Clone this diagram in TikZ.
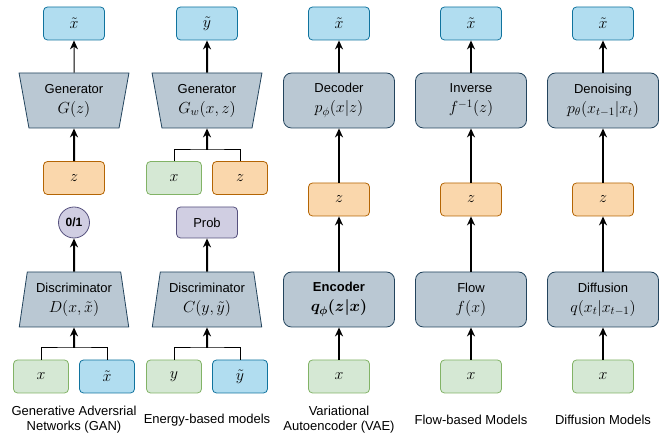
\RequirePackage{fix-cm}
\documentclass[tikz,border=0pt]{standalone}
\usepackage{amsmath,amssymb}
\usepackage{fontspec}
\setmainfont{Liberation Sans}
\usepackage{xcolor}
\usetikzlibrary{arrows.meta,shapes.geometric}
\definecolor{bluefill}{HTML}{B1DDF0}
\definecolor{blueline}{HTML}{10739E}
\definecolor{orangefill}{HTML}{FAD7AC}
\definecolor{orangeline}{HTML}{B46504}
\definecolor{greenfill}{HTML}{D5E8D4}
\definecolor{greenline}{HTML}{82B366}
\definecolor{grayfill}{HTML}{BAC8D3}
\definecolor{grayline}{HTML}{23445D}
\definecolor{purplefill}{HTML}{D0CEE2}
\definecolor{purpleline}{HTML}{56517E}
\newcommand{\mth}[1]{{\fontsize{16}{20}\selectfont$#1$}}
\tikzset{
	every node/.style={font=\fontsize{13}{20}\selectfont},
	smallbox/.style={rounded corners=4pt, minimum width=61pt, minimum height=33pt, inner sep=0pt, line width=0.8pt},
	outbox/.style={smallbox, draw=blueline, fill=bluefill},
	latent/.style={smallbox, draw=orangeline, fill=orangefill},
	inbox/.style={smallbox, draw=greenline, fill=greenfill},
	halfbox/.style={minimum width=55pt},
	netbox/.style={draw=grayline, fill=grayfill, rounded corners=8pt, minimum width=111pt, minimum height=55pt, align=center, inner sep=0pt, line width=0.8pt},
	trapnet/.style={trapezium, trapezium stretches, draw=grayline, fill=grayfill, minimum width=110pt, minimum height=55pt, align=center, inner sep=0pt, line width=0.8pt},
	gennet/.style={trapnet, trapezium left angle=101, trapezium right angle=101},
	discnet/.style={trapnet, trapezium left angle=79, trapezium right angle=79},
	flow/.style={-{Stealth[length=9pt,width=8pt]}, line width=2pt},
	thinflow/.style={-{Stealth[length=9pt,width=8pt]}, line width=1pt},
	branchline/.style={line width=1pt},
	caption/.style={align=center, font=\fontsize{13}{15}\selectfont}
}

\begin{document}
\begin{tikzpicture}[x=1pt,y=-1pt]
	\useasboundingbox (0,0) rectangle (665,435);

	% GAN
	\node[outbox] (ganout) at (74,23.5) {\mth{\tilde{x}}};
	\node[gennet] (gangen) at (74,100.5) {Generator\\\mth{G(z)}};
	\node[latent] (ganz) at (74,178) {\mth{z}};
	\node[circle, draw=purpleline, fill=purplefill, minimum size=31pt, inner sep=0pt, line width=0.8pt, font=\fontsize{12}{14}\selectfont\bfseries] (ganprob) at (74,222.5) {0/1};
	\node[discnet] (gandisc) at (74,299.5) {Discriminator\\\mth{D(x,\tilde{x})}};
	\node[inbox, halfbox] (ganx) at (41,376.5) {\mth{x}};
	\node[outbox, halfbox] (ganxt) at (107,376.5) {\mth{\tilde{x}}};
	\coordinate (ganjoin) at (74,348);
	\draw[thinflow] (gangen) -- (ganout);
	\draw[flow] (ganz) -- (gangen);
	\draw[flow] (gandisc) -- (ganprob);
	\draw[branchline] (ganx.north) |- (ganjoin) -| (ganxt.north);
	\draw[flow] (ganjoin) -- (gandisc.south);
	\node[caption] (gancap) at (74,420) {Generative Adversrial\\Networks (GAN)};

	% Energy-based models
	\node[outbox] (ebmout) at (207,23.5) {\mth{\tilde{y}}};
	\node[gennet] (ebmgen) at (207,100.5) {Generator\\\mth{G_w(x,z)}};
	\node[inbox, halfbox] (ebmx) at (174,178) {\mth{x}};
	\node[latent, halfbox] (ebmz) at (240,178) {\mth{z}};
	\node[smallbox, draw=purpleline, fill=purplefill, minimum height=31pt] (ebmprob) at (207,222.5) {Prob};
	\node[discnet] (ebmdisc) at (207,299.5) {Discriminator\\\mth{C(y,\tilde{y})}};
	\node[inbox, halfbox] (ebmy) at (174,376.5) {\mth{y}};
	\node[outbox, halfbox] (ebmyt) at (240,376.5) {\mth{\tilde{y}}};
	\coordinate (ebmtop) at (207,150);
	\coordinate (ebmjoin) at (207,348);
	\draw[flow] (ebmgen) -- (ebmout);
	\draw[branchline] (ebmx.north) |- (ebmtop) -| (ebmz.north);
	\draw[flow] (ebmtop) -- (ebmgen.south);
	\draw[flow] (ebmdisc) -- (ebmprob);
	\draw[branchline] (ebmy.north) |- (ebmjoin) -| (ebmyt.north);
	\draw[flow] (ebmjoin) -- (ebmdisc.south);
	\node[caption] (ebmcap) at (207,420) {Energy-based models};

	% VAE
	\node[outbox] (vaeout) at (339,23.5) {\mth{\tilde{x}}};
	\node[netbox] (vaedec) at (339,100.5) {Decoder\\\mth{p_\phi(x|z)}};
	\node[latent] (vaez) at (339,199.5) {\mth{z}};
	\node[netbox, font=\fontsize{13}{20}\selectfont\bfseries] (vaeenc) at (339,299.5) {Encoder\\\mth{\boldsymbol{q_\phi(z|x)}}};
	\node[inbox] (vaex) at (339,376.5) {\mth{x}};
	\draw[flow] (vaedec) -- (vaeout);
	\draw[flow] (vaez) -- (vaedec);
	\draw[flow] (vaeenc) -- (vaez);
	\draw[flow] (vaex) -- (vaeenc);
	\node[caption] (vaecap) at (339,420) {Variational\\Autoencoder (VAE)};

	% Flow-based models
	\node[outbox] (flowout) at (471,23.5) {\mth{\tilde{x}}};
	\node[netbox] (flowinv) at (471,100.5) {Inverse\\\mth{f^{-1}(z)}};
	\node[latent] (flowz) at (471,199.5) {\mth{z}};
	\node[netbox] (flowfwd) at (471,299.5) {Flow\\\mth{f(x)}};
	\node[inbox] (flowx) at (471,376.5) {\mth{x}};
	\draw[flow] (flowinv) -- (flowout);
	\draw[flow] (flowz) -- (flowinv);
	\draw[flow] (flowfwd) -- (flowz);
	\draw[flow] (flowx) -- (flowfwd);
	\node[caption] (flowcap) at (471,420) {Flow-based Models};

	% Diffusion models
	\node[outbox] (difout) at (603,23.5) {\mth{\tilde{x}}};
	\node[netbox] (difden) at (603,100.5) {Denoising\\\mth{p_\theta(x_{t-1}|x_t)}};
	\node[latent] (difz) at (603,199.5) {\mth{z}};
	\node[netbox] (diffwd) at (603,299.5) {Diffusion\\\mth{q(x_t|x_{t-1})}};
	\node[inbox] (difx) at (603,376.5) {\mth{x}};
	\draw[flow] (difden) -- (difout);
	\draw[flow] (difz) -- (difden);
	\draw[flow] (diffwd) -- (difz);
	\draw[flow] (difx) -- (diffwd);
	\node[caption] (difcap) at (603,420) {Diffusion Models};
\end{tikzpicture}
\end{document}
